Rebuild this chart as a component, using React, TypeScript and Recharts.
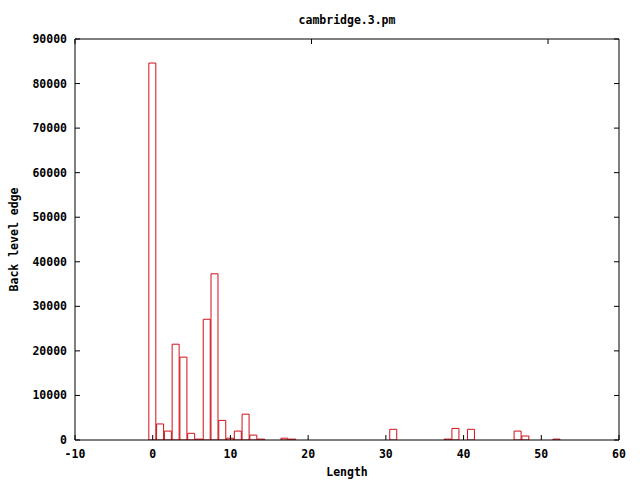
import { Bar, ComposedChart, XAxis, YAxis } from 'recharts';

// Bin positions (length) and counts. Empty bins are left out.
const lengths = [0, 1, 2, 3, 4, 5, 6, 7, 8, 9, 10, 11, 12, 13, 14, 17, 18, 31, 38, 39, 41, 47, 48, 52];
const counts = [
  84600, 3600, 2000, 21500, 18600, 1500, 200, 27100, 37300, 4400, 400, 2000, 5800, 1100, 200,
  400, 200, 2400, 200, 2600, 2400, 2000, 900, 200,
];
const xTicks = [-10, 0, 10, 20, 30, 40, 50, 60];
const yTicks = [0, 10000, 20000, 30000, 40000, 50000, 60000, 70000, 80000, 90000];

const title = 'cambridge.3.pm';
const xLabel = 'Length';
const yLabel = 'Back level edge';

const data = lengths.map((len, i) => ({ len, count: counts[i] }));

const font = {
  fontFamily: '"DejaVu Sans Mono", monospace',
  fontWeight: 'bold' as const,
  fontSize: 11.5,
  fill: '#000',
};
const TICK = 5;
const RED = '#d0101a';

// gnuplot style: ticks point into the plot, labels sit outside.
const BottomTick = ({ x, y, payload }: any) => (
  <g>
    <line x1={x} y1={y} x2={x} y2={y - TICK} stroke="#000" />
    <text x={x} y={y + 18} textAnchor="middle" style={font}>
      {payload.value}
    </text>
  </g>
);

const TopTick = ({ x, y }: any) => <line x1={x} y1={y} x2={x} y2={y + TICK} stroke="#000" />;

const LeftTick = ({ x, y, payload }: any) => (
  <g>
    <line x1={x} y1={y} x2={x + TICK} y2={y} stroke="#000" />
    <text x={x - 8} y={y + 4} textAnchor="end" style={font}>
      {payload.value}
    </text>
  </g>
);

const RightTick = ({ x, y }: any) => <line x1={x} y1={y} x2={x - TICK} y2={y} stroke="#000" />;

const TitleLabel = ({ viewBox }: any) => (
  <text
    x={viewBox.x + viewBox.width / 2}
    y={viewBox.y + viewBox.height / 2 + 4}
    textAnchor="middle"
    style={font}
  >
    {title}
  </text>
);

const XLabel = ({ viewBox }: any) => (
  <text x={viewBox.x + viewBox.width / 2} y={viewBox.y + viewBox.height - 4} textAnchor="middle" style={font}>
    {xLabel}
  </text>
);

const YLabel = ({ viewBox }: any) => {
  const x = viewBox.x + 18;
  const y = viewBox.y + viewBox.height / 2;
  return (
    <text x={x} y={y} transform={`rotate(-90 ${x} ${y})`} textAnchor="middle" style={font}>
      {yLabel}
    </text>
  );
};

export default function App() {
  return (
    <div style={{ position: 'absolute', left: 0, top: 0, background: '#fff' }}>
      <ComposedChart width={640} height={480} data={data} margin={{ top: 0, right: 0, bottom: 0, left: 0 }}>
        <XAxis
          dataKey="len"
          type="number"
          domain={[-10, 60]}
          ticks={xTicks}
          allowDataOverflow
          height={40}
          tickSize={0}
          tickMargin={0}
          tickLine={false}
          axisLine={{ stroke: '#000' }}
          tick={<BottomTick />}
          interval={0}
          label={{ content: <XLabel /> }}
        />
        <XAxis
          xAxisId="top"
          orientation="top"
          type="number"
          domain={[-10, 60]}
          ticks={xTicks}
          allowDataOverflow
          height={39}
          tickSize={0}
          tickMargin={0}
          tickLine={false}
          axisLine={{ stroke: '#000' }}
          tick={<TopTick />}
          interval={0}
          label={{ content: <TitleLabel /> }}
        />
        <YAxis
          type="number"
          domain={[0, 90000]}
          ticks={yTicks}
          allowDataOverflow
          width={75}
          tickSize={0}
          tickMargin={0}
          tickLine={false}
          axisLine={{ stroke: '#000' }}
          tick={<LeftTick />}
          interval={0}
          label={{ content: <YLabel /> }}
        />
        <YAxis
          yAxisId="right"
          orientation="right"
          type="number"
          domain={[0, 90000]}
          ticks={yTicks}
          allowDataOverflow
          width={21}
          tickSize={0}
          tickMargin={0}
          tickLine={false}
          axisLine={{ stroke: '#000' }}
          tick={<RightTick />}
          interval={0}
        />
        <Bar dataKey="count" barSize={7.8} fill="none" stroke={RED} strokeWidth={1} isAnimationActive={false} />
      </ComposedChart>
    </div>
  );
}
